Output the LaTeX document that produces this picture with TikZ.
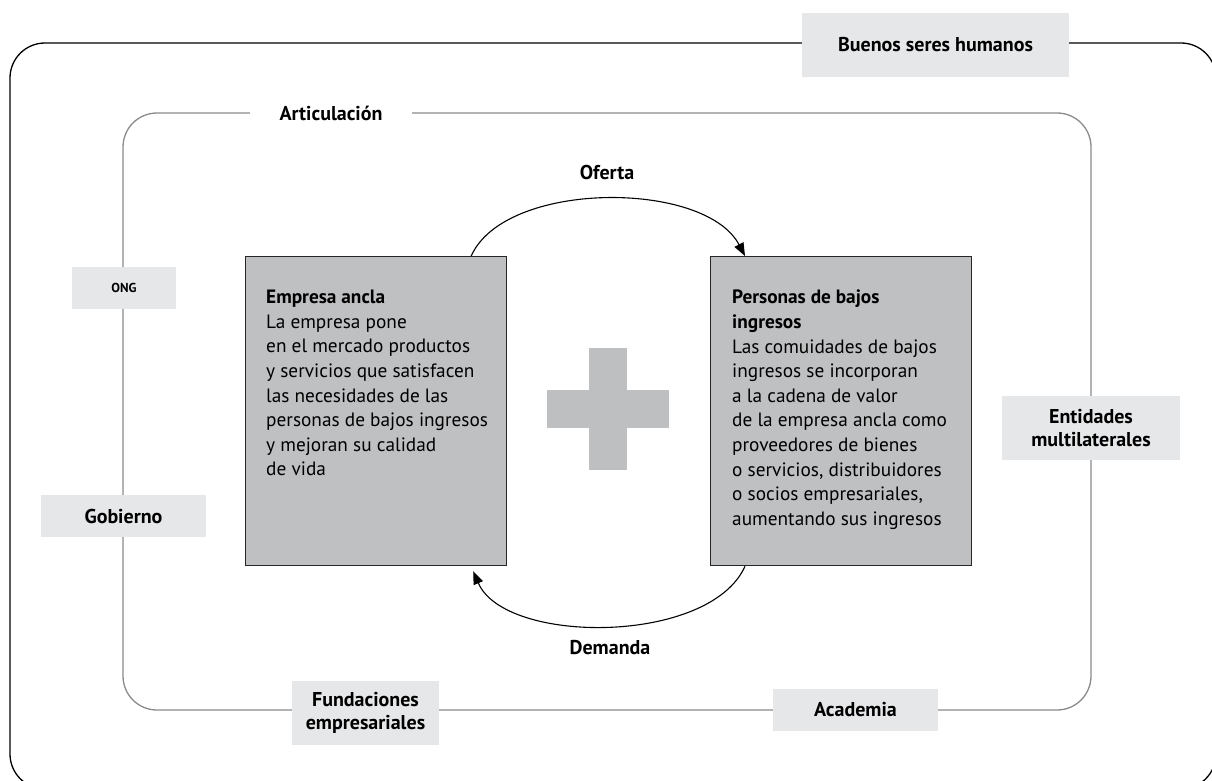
\documentclass[tikz,border=0pt]{standalone}
\usepackage{fontspec}
\setmainfont{PT Sans}
\usetikzlibrary{arrows.meta,calc}
\definecolor{labg}{HTML}{E6E7E8}
\definecolor{boxg}{HTML}{BFC0C2}
\definecolor{plusg}{HTML}{BEBFC1}
\definecolor{frameg}{HTML}{8A8A8A}
\begin{document}
\begin{tikzpicture}[x=1pt,y=-1pt,
  lab/.style={fill=labg, inner sep=0pt, align=center, font=\bfseries\fontsize{20}{23}\selectfont},
  mainbox/.style={draw=black!85, fill=boxg, line width=1.2pt, inner sep=0pt, anchor=north west, minimum width=261pt, minimum height=309pt},
  boxtext/.style={anchor=north west, inner sep=0pt, align=left, font=\fontsize{19.3}{24.6}\selectfont},
  flow/.style={line width=1.1pt, -{Triangle[length=13pt,width=10pt]}},
  arclabel/.style={font=\bfseries\fontsize{20}{23}\selectfont, inner sep=0pt}
]
\useasboundingbox (0,0) rectangle (1212,781);
\clip (0,0) rectangle (1212,781);
% frames
\draw[line width=1.3pt, rounded corners=35pt] (10,43) rectangle (1216,789);
\draw[frameg, line width=1.3pt, rounded corners=34pt] (123,113) rectangle (1091,710);
% labels on frames
\node[lab, minimum width=267pt, minimum height=64pt] (buenos) at (935.5,45) {Buenos seres humanos};
\node[fill=white, inner sep=0pt, minimum width=162pt, minimum height=22pt, font=\bfseries\fontsize{20}{23}\selectfont] (artic) at (331,113) {Articulación};
\node[lab, minimum width=104pt, minimum height=42pt, font=\bfseries\fontsize{13}{15}\selectfont] (ong) at (124,288) {ONG};
\node[lab, minimum width=165pt, minimum height=42pt] (gobierno) at (123.5,516) {Gobierno};
\node[lab, minimum width=178pt, minimum height=64pt] (entidades) at (1091,428) {Entidades\\multilaterales};
\node[lab, minimum width=147pt, minimum height=64pt] (fundaciones) at (365.5,713) {Fundaciones\\empresariales};
\node[lab, minimum width=165pt, minimum height=42pt] (academia) at (855.5,710) {Academia};
% main boxes
\node[mainbox] (empresa) at (245,256) {};
\node[mainbox] (personas) at (710,256) {};
\node[boxtext] (empresatxt) at ($(empresa.north west)+(21,34)$) {\textbf{Empresa ancla}\\La empresa pone\\en el mercado productos\\y servicios que satisfacen\\las necesidades de las\\personas de bajos ingresos\\y mejoran su calidad\\de vida};
\node[boxtext] (personastxt) at ($(personas.north west)+(22,34)$) {\textbf{Personas de bajos}\\\textbf{ingresos}\\Las comuidades de bajos\\ingresos se incorporan\\a la cadena de valor\\de la empresa ancla como\\proveedores de bienes\\o servicios, distribuidores\\o socios empresariales,\\aumentando sus ingresos};
% plus sign
\fill[plusg] (589,348) rectangle (627,470);
\fill[plusg] (547,390) rectangle (669,428);
% arcs
\draw[flow] ($(empresa.north east)+(-36,0)$) .. controls (505,180) and (705,180) .. ($(personas.north west)+(35,0)$);
\draw[flow] ($(personas.south west)+(35,0)$) .. controls (710,645) and (505,645) .. ($(empresa.south east)+(-34,5)$);
\node[arclabel] (oferta) at (607,172) {Oferta};
\node[arclabel] (demanda) at (610,648) {Demanda};
\end{tikzpicture}
\end{document}
